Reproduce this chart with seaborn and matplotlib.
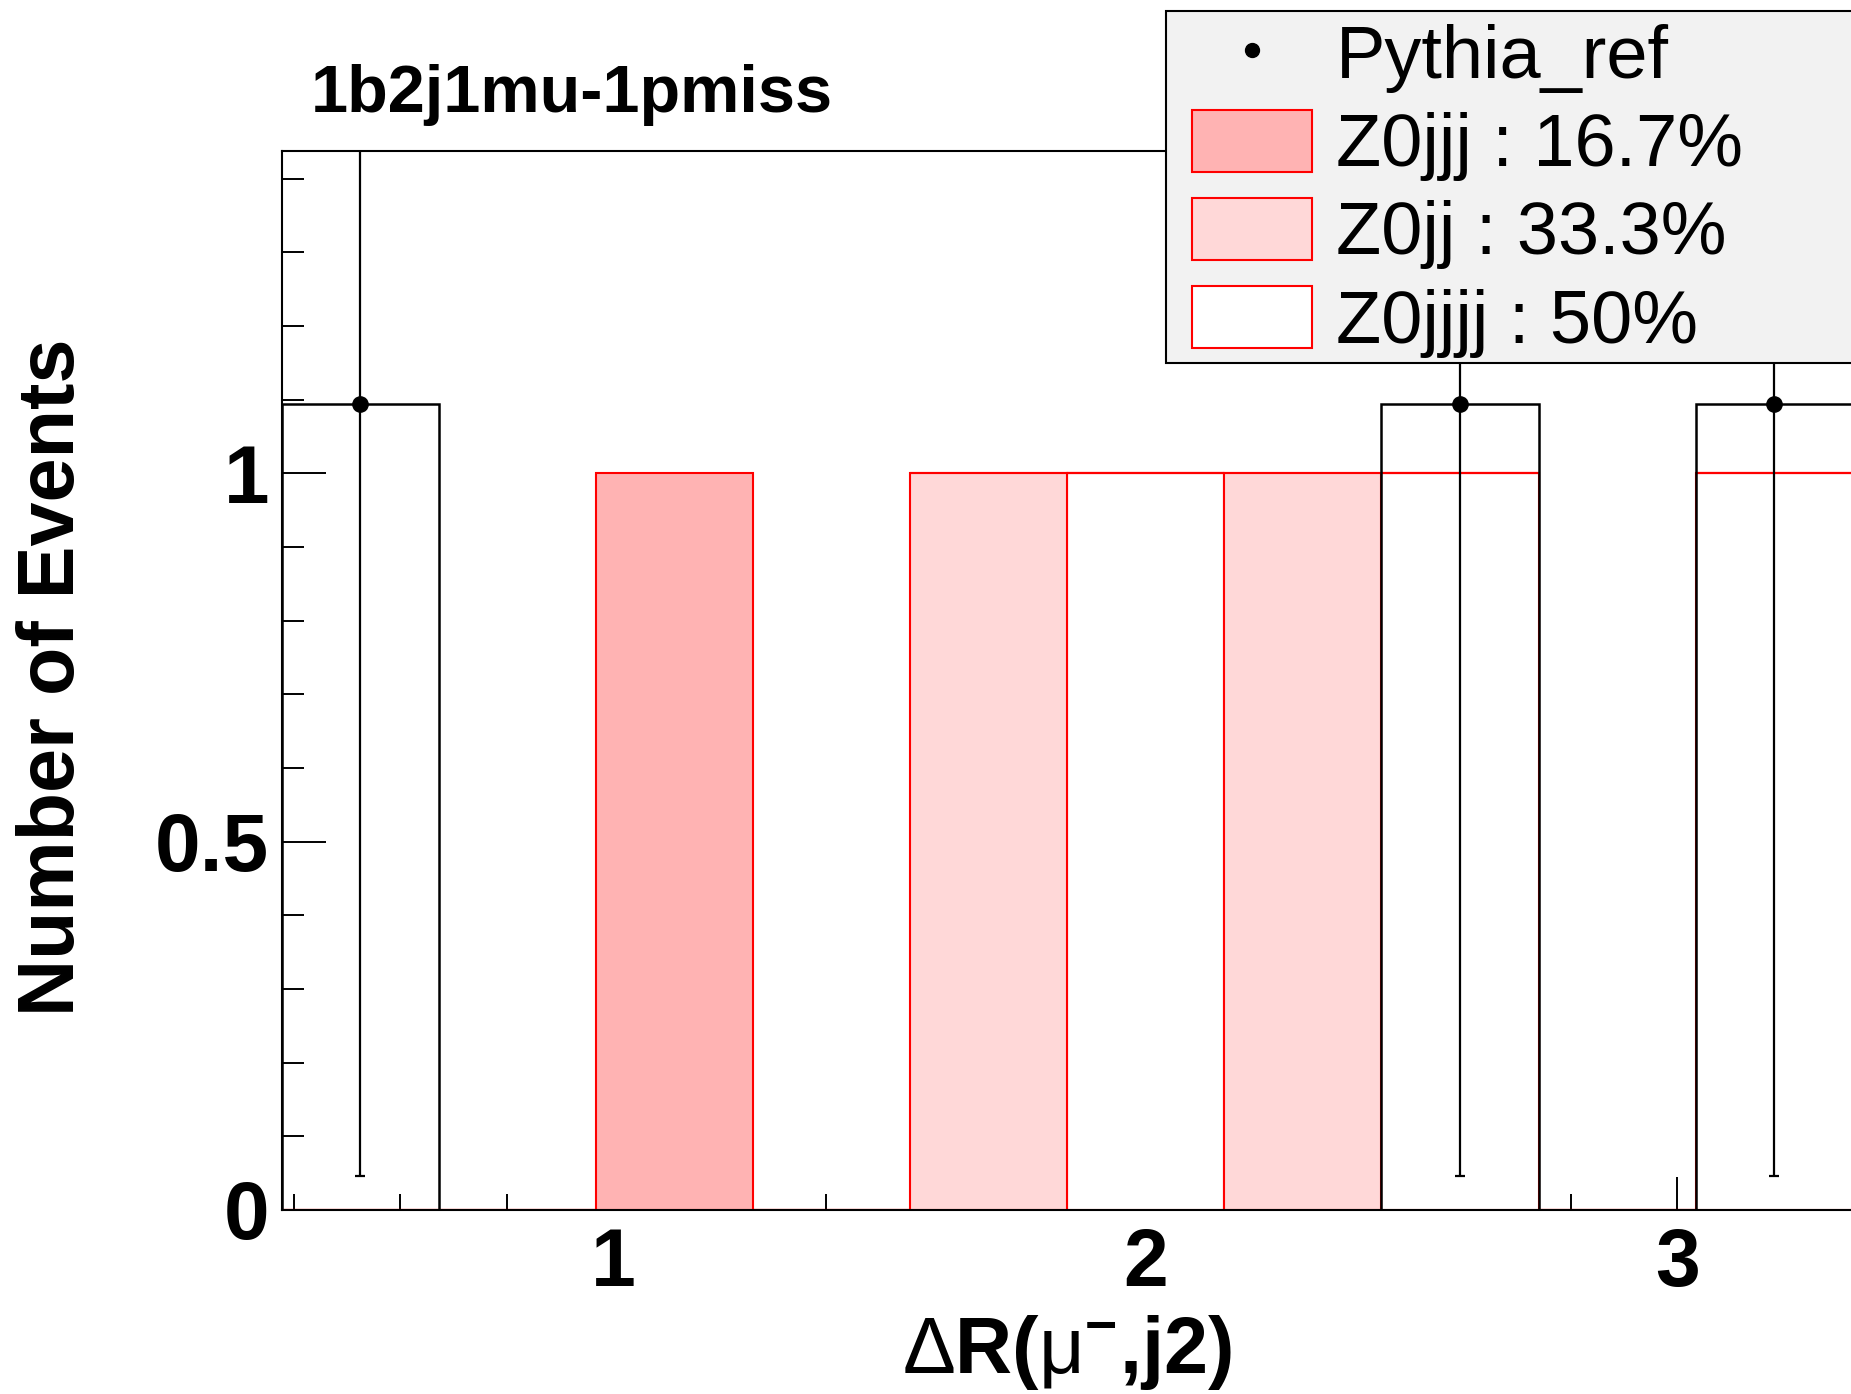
import numpy as np
import pandas as pd
import matplotlib
matplotlib.use("Agg")
import matplotlib.pyplot as plt
import seaborn as sns
from matplotlib.patches import Patch, Rectangle
from matplotlib.lines import Line2D
from matplotlib.ticker import MultipleLocator, FixedLocator, FuncFormatter
from matplotlib.font_manager import FontProperties

# ---------------- data ----------------
bin_edges = [0.3767, 0.6720, 0.9673, 1.2626, 1.5579, 1.8532,
             2.1485, 2.4438, 2.7391, 3.0344, 3.3297]
z0jjj = [0, 0, 1, 0, 0, 0, 0, 0, 0, 0]
z0jj = [0, 0, 0, 0, 1, 0, 1, 0, 0, 0]
z0jjjj = [0, 0, 0, 0, 0, 1, 0, 1, 0, 1]
pythia = [1.094, 0, 0, 0, 0, 0, 0, 1.094, 0, 1.094]
pythia_err = [1.048, 0, 0, 0, 0, 0, 0, 1.048, 0, 1.048]
sample_names = ["Z0jjj", "Z0jj", "Z0jjjj"]
legend_labels = ["Pythia_ref", "Z0jjj : 16.7%", "Z0jj : 33.3%", "Z0jjjj : 50%"]
sample_colors = {"Z0jjj": "#ffb3b3", "Z0jj": "#ffd8d8", "Z0jjjj": "#ffffff"}
title_text = "1b2j1mu-1pmiss"
xlabel_text = r"$\mathrm{Δ}$R($\mathrm{μ}^{\mathbf{-}}$,j2)"
ylabel_text = "Number of Events"

# ---------------- style ----------------
plt.rcParams["font.family"] = ["Liberation Sans", "DejaVu Sans"]
plt.rcParams["mathtext.fontset"] = "custom"
plt.rcParams["mathtext.rm"] = "Liberation Sans"
plt.rcParams["mathtext.bf"] = "Liberation Sans:bold"
plt.rcParams["mathtext.it"] = "Liberation Sans:italic"

W, H = 1851, 1394
fig = plt.figure(figsize=(W / 100, H / 100), dpi=100)
fig.patch.set_facecolor("white")

ax_l, ax_r, ax_t, ax_b = 281.7, 1852.7, 151, 1210
ax = fig.add_axes([ax_l / W, (H - ax_b) / H, (ax_r - ax_l) / W, (ax_b - ax_t) / H])

edges = list(bin_edges)
edges_arr = np.array(bin_edges)
centers = 0.5 * (edges_arr[:-1] + edges_arr[1:])

# MC stack
rows = []
for name, vals in zip(sample_names, [z0jjj, z0jj, z0jjjj]):
    for c, v in zip(centers, vals):
        rows.append({"x": c, "w": v, "sample": name})
df = pd.DataFrame(rows)
sns.histplot(data=df, x="x", weights="w", hue="sample", hue_order=sample_names,
             bins=edges, multiple="stack", element="bars", palette=sample_colors,
             edgecolor="red", linewidth=1.5, alpha=1, legend=False, ax=ax, zorder=2)

# Pythia reference outline
sns.histplot(x=list(centers), weights=pythia, bins=edges, element="bars", fill=False,
             color="black", linewidth=1.8, ax=ax, zorder=3)

# Pythia points with errors (only filled bins)
p_arr = np.array(pythia)
e_arr = np.array(pythia_err)
mask = p_arr > 0
ax.errorbar(centers[mask], p_arr[mask], yerr=e_arr[mask], fmt="o", color="black",
            markersize=11, elinewidth=1.6, capsize=3.6, capthick=1.6, zorder=4,
            clip_on=True)

ax.set_xlim(edges[0], edges[-1])
ax.set_ylim(0, 1.4375)

# ticks
ax.xaxis.set_major_locator(FixedLocator([1, 2, 3]))
ax.xaxis.set_minor_locator(MultipleLocator(0.2))
ax.yaxis.set_major_locator(FixedLocator([0, 0.5, 1]))
ax.yaxis.set_minor_locator(MultipleLocator(0.1))
ax.yaxis.set_major_formatter(FuncFormatter(lambda v, p: f"{v:g}"))
ax.xaxis.set_major_formatter(FuncFormatter(lambda v, p: f"{v:g}"))
ax.tick_params(axis="x", which="major", direction="in", length=23.8, width=1.4,
               pad=12, labelsize=58, top=False)
ax.tick_params(axis="x", which="minor", direction="in", length=11.5, width=1.4, top=False)
ax.tick_params(axis="y", which="major", direction="in", length=31.7, width=1.4,
               pad=9, labelsize=59, right=False)
ax.tick_params(axis="y", which="minor", direction="in", length=15.8, width=1.4, right=False)
for lab in ax.get_xticklabels() + ax.get_yticklabels():
    lab.set_fontweight("bold")

for s in ["left", "bottom", "top", "right"]:
    ax.spines[s].set_linewidth(1.5)
    ax.spines[s].set_color("black")

# labels
ax.set_xlabel(xlabel_text, fontsize=57, fontweight="bold")
ax.xaxis.label.set_va("baseline")
ax.xaxis.set_label_coords(0.5, (ax_b - 1373) / (ax_b - ax_t))
ax.set_ylabel(ylabel_text, fontsize=57, fontweight="bold")
ax.yaxis.label.set_va("baseline")
ax.yaxis.set_label_coords((74 - ax_l) / (ax_r - ax_l), (ax_b - 677) / (ax_b - ax_t))

ax.set_title(title_text, loc="left", fontsize=48, fontweight="bold", pad=0,
             x=(311 - ax_l) / (ax_r - ax_l), y=(ax_b - 112) / (ax_b - ax_t), va="baseline")

# legend frame + legend
fig.patches.append(Rectangle((1166 / W, 1 - 363 / H), 0.5, 352 / H,
                             transform=fig.transFigure, facecolor="#f2f2f2",
                             edgecolor="black", linewidth=1.5, zorder=5))
handles = [Line2D([], [], marker="o", color="black", linestyle="none", markersize=10)]
for name in sample_names:
    handles.append(Patch(facecolor=sample_colors[name], edgecolor="red", linewidth=1.5))
leg = fig.legend(handles, legend_labels, loc="upper left",
                 bbox_to_anchor=(1191.6 / W, 1 - 22 / H), frameon=False,
                 borderpad=0, borderaxespad=0, handlelength=1.622, handleheight=0.908,
                 handletextpad=0.325, labelspacing=0.224,
                 prop=FontProperties(family="Liberation Sans", size=53.3))
leg.set_zorder(6)

fig.savefig("out.png", dpi=100)
